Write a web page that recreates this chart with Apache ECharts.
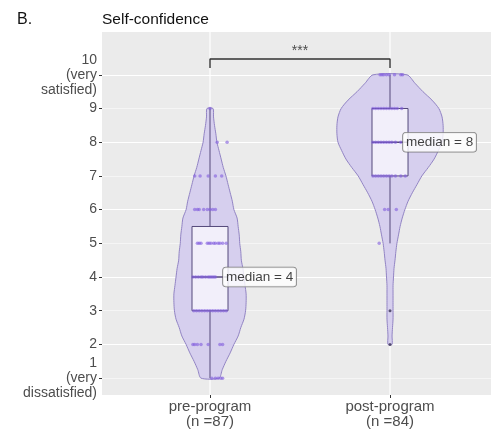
<!DOCTYPE html>
<html>
<head>
<meta charset="utf-8">
<script src="https://cdn.jsdelivr.net/npm/echarts@6/dist/echarts.min.js"></script>
<style>
  html, body { margin: 0; padding: 0; background: #fff; }
  #chart { width: 491px; height: 429px; }
</style>
</head>
<body>
<div id="chart"></div>
<script>
// 数据
const groupLabels = ['pre-program\n(n =87)', 'post-program\n(n =84)'];
const groupCenters = [1, 2];
const yTicks = [1, 2, 3, 4, 5, 6, 7, 8, 9, 10];
const yTickLabels = ['1\n(very\ndissatisfied)', '2', '3', '4', '5', '6', '7', '8', '9', '10\n(very\nsatisfied)'];

// violin 密度 (相对宽度), 每 0.25 一个点
const preLevels = [1, 1.25, 1.5, 1.75, 2, 2.25, 2.5, 2.75, 3, 3.25, 3.5, 3.75, 4, 4.25, 4.5, 4.75, 5, 5.25, 5.5, 5.75, 6, 6.25, 6.5, 6.75, 7, 7.25, 7.5, 7.75, 8, 8.25, 8.5, 8.75, 9];
const preDensity = [.17, .23, .30, .38, .45, .53, .58, .64, .67, .68, .68, .66, .64, .62, .59, .58, .56, .55, .53, .51, .45, .42, .38, .34, .30, .25, .21, .17, .13, .11, .085, .066, .057];
const postLevels = [2, 2.25, 2.5, 2.75, 3, 3.25, 3.5, 3.75, 4, 4.25, 4.5, 4.75, 5, 5.25, 5.5, 5.75, 6, 6.25, 6.5, 6.75, 7, 7.25, 7.5, 7.75, 8, 8.25, 8.5, 8.75, 9, 9.25, 9.5, 9.75, 10];
const postDensity = [.038, .038, .047, .057, .057, .057, .057, .057, .066, .075, .094, .11, .13, .16, .19, .23, .28, .34, .42, .51, .60, .72, .83, .91, .98, 1, 1, .98, .92, .79, .62, .47, .32];

// boxplot: [min, Q1, median, Q3, max]
const preBox = [1, 3, 4, 5.5, 9];
const postBox = [5, 7, 8, 9, 10];
const postOutliers = [3, 2];

// jitter 点
const preScores = [9, 8, 8, 7, 7, 7, 7, 7, 6, 6, 6, 6, 6, 6, 6, 6,
  5, 5, 5, 5, 5, 5, 5, 5, 5, 5, 5, 5,
  4, 4, 4, 4, 4, 4, 4, 4, 4, 4, 4,
  3, 3, 3, 3, 3, 3, 3, 3, 3, 3, 3, 3, 3,
  2, 2, 2, 2, 2, 2, 2, 1, 1, 1, 1, 1];
const preJitter = [0, .04, .095, -.085, -.055, -.01, .03, .065, -.085, -.07, -.06, -.035, -.015, 0, .015, .03,
  -.07, -.06, -.05, -.015, -.005, .005, .02, .03, .045, .055, .07, .09,
  -.095, -.08, -.065, -.05, -.04, -.025, -.01, 0, .01, .02, .03,
  -.09, -.075, -.06, -.045, -.03, -.015, 0, .015, .03, .045, .06, .075, .09,
  -.095, -.085, -.07, -.05, -.01, .055, .07, .01, .03, .045, .06, .07];
const postScores = [10, 10, 10, 10, 10, 10, 10, 10,
  9, 9, 9, 9, 9, 9, 9, 9, 9, 9, 9,
  8, 8, 8, 8, 8, 8, 8, 8, 8, 8,
  7, 7, 7, 7, 7, 7, 7, 7, 7, 7, 7,
  6, 6, 6, 5];
const postJitter = [-.055, -.045, -.035, -.02, -.005, .025, .06, .07,
  -.095, -.08, -.065, -.05, -.035, -.02, -.005, .01, .025, .04, .065,
  -.095, -.08, -.065, -.05, -.035, -.02, -.005, .01, .03, .06,
  -.095, -.08, -.065, -.05, -.035, -.02, -.005, .01, .03, .06, .085,
  -.03, -.01, .035, -.06];

const bracket = [[1, 10.2], [1, 10.47], [2, 10.47], [2, 10.2]];
const sigText = '***';

const yMin = 0.5, yMax = 11.27;
const violinHalfMax = 0.295; // 最大半宽 (x 轴单位)
const boxHalf = 0.1;

const violins = [
  { center: 1, levels: preLevels, density: preDensity },
  { center: 2, levels: postLevels, density: postDensity },
];

function renderViolin(params, api) {
  const v = violins[api.value(0)];
  const pts = [];
  v.levels.forEach((y, i) => pts.push(api.coord([v.center - v.density[i] * violinHalfMax, y])));
  for (let i = v.levels.length - 1; i >= 0; i--) {
    pts.push(api.coord([v.center + v.density[i] * violinHalfMax, v.levels[i]]));
  }
  return {
    type: 'polygon',
    shape: { points: pts, smooth: 0.25 },
    style: { fill: '#d6cfee', stroke: '#9284c4', lineWidth: 1 }
  };
}

function renderBox(params, api) {
  const c = api.value(0);
  const [mn, q1, md, q3, mx] = [1, 2, 3, 4, 5].map(i => api.value(i));
  const p = (x, y) => api.coord([x, y]);
  const stroke = '#54497a';
  const tl = p(c - boxHalf, q3), br = p(c + boxHalf, q1);
  return {
    type: 'group',
    children: [
      { type: 'line', shape: { x1: p(c, mx)[0], y1: p(c, mx)[1], x2: p(c, q3)[0], y2: p(c, q3)[1] }, style: { stroke, lineWidth: 1 } },
      { type: 'line', shape: { x1: p(c, q1)[0], y1: p(c, q1)[1], x2: p(c, mn)[0], y2: p(c, mn)[1] }, style: { stroke, lineWidth: 1 } },
      { type: 'rect', shape: { x: tl[0], y: tl[1], width: br[0] - tl[0], height: br[1] - tl[1] }, style: { fill: '#f2effa', stroke, lineWidth: 1 } },
      { type: 'line', shape: { x1: tl[0], y1: p(c, md)[1], x2: br[0], y2: p(c, md)[1] }, style: { stroke, lineWidth: 1.6 } },
    ]
  };
}

const chart = echarts.init(document.getElementById('chart'));
const option = {
  animation: false,
  title: [
    { text: 'B.', left: 17, top: 12, padding: 0, textStyle: { fontFamily: 'Liberation Sans', fontSize: 16, fontWeight: 'normal', color: '#111' } },
    { text: 'Self-confidence', left: 102, top: 12, padding: 0, textStyle: { fontFamily: 'Liberation Sans', fontSize: 15.5, fontWeight: 'normal', color: '#111' } },
  ],
  grid: { left: 102, top: 32, right: 0, bottom: 33, show: true, backgroundColor: '#ebebeb', borderWidth: 0 },
  xAxis: {
    type: 'value', min: 0.4, max: 2.561,
    axisLine: { show: false },
    axisTick: { customValues: groupCenters, length: 3, lineStyle: { color: '#333' } },
    axisLabel: {
      customValues: groupCenters, margin: 4, fontFamily: 'Liberation Sans', fontSize: 15, lineHeight: 15, color: '#4d4d4d',
      formatter: v => groupLabels[Math.round(v) - 1]
    },
    splitLine: { show: false }
  },
  yAxis: {
    type: 'value', min: yMin, max: yMax, interval: 0.5,
    axisLine: { show: false },
    axisTick: { customValues: yTicks, length: 3, lineStyle: { color: '#333' } },
    axisLabel: {
      customValues: yTicks, margin: 5, fontFamily: 'Liberation Sans', fontSize: 14, lineHeight: 15, color: '#4d4d4d', align: 'right',
      formatter: v => yTickLabels[Math.round(v) - 1]
    },
    splitLine: { show: true, lineStyle: { color: ['#f5f5f5', '#ffffff'], width: 1 } }
  },
  series: [
    // 竖向网格线
    ...groupCenters.map(c => ({
      type: 'line', z: 1, silent: true, symbol: 'none',
      lineStyle: { color: '#ffffff', width: 1.2 },
      data: [[c, yMin], [c, yMax]]
    })),
    { type: 'custom', renderItem: renderViolin, data: [[0], [1]], z: 2, silent: true },
    { type: 'custom', renderItem: renderBox, data: [[1].concat(preBox), [2].concat(postBox)], z: 3, silent: true,
      encode: { x: 0, y: [1, 2, 3, 4, 5] } },
    {
      type: 'scatter', z: 4, symbolSize: 3.5, silent: true,
      itemStyle: { color: 'rgba(128, 92, 222, 0.75)' },
      data: preScores.map((s, i) => [1 + preJitter[i], s]).concat(postScores.map((s, i) => [2 + postJitter[i], s]))
    },
    {
      type: 'scatter', z: 4, symbolSize: 3, silent: true,
      itemStyle: { color: '#3a3355' },
      data: postOutliers.map(s => [2, s])
    },
    {
      type: 'line', z: 5, silent: true, symbol: 'none',
      lineStyle: { color: '#333', width: 1.4 },
      data: bracket
    },
    {
      type: 'scatter', z: 5, silent: true, symbolSize: 0,
      data: [[1.5, 10.7]],
      label: { show: true, position: 'inside', formatter: sigText, fontFamily: 'Liberation Sans', fontSize: 14, color: '#222' }
    },
    {
      type: 'scatter', z: 6, silent: true, symbolSize: 0,
      data: [[1, preBox[2]], [2, postBox[2]]],
      label: {
        show: true, position: 'right', distance: 13,
        formatter: p => 'median = ' + p.value[1],
        fontFamily: 'Liberation Sans', fontSize: 13.5, color: '#111',
        backgroundColor: '#ffffff', borderColor: '#666', borderWidth: 0.8, borderRadius: 3, padding: [3, 3, 2, 3]
      }
    }
  ]
};
chart.setOption(option);
</script>
</body>
</html>
